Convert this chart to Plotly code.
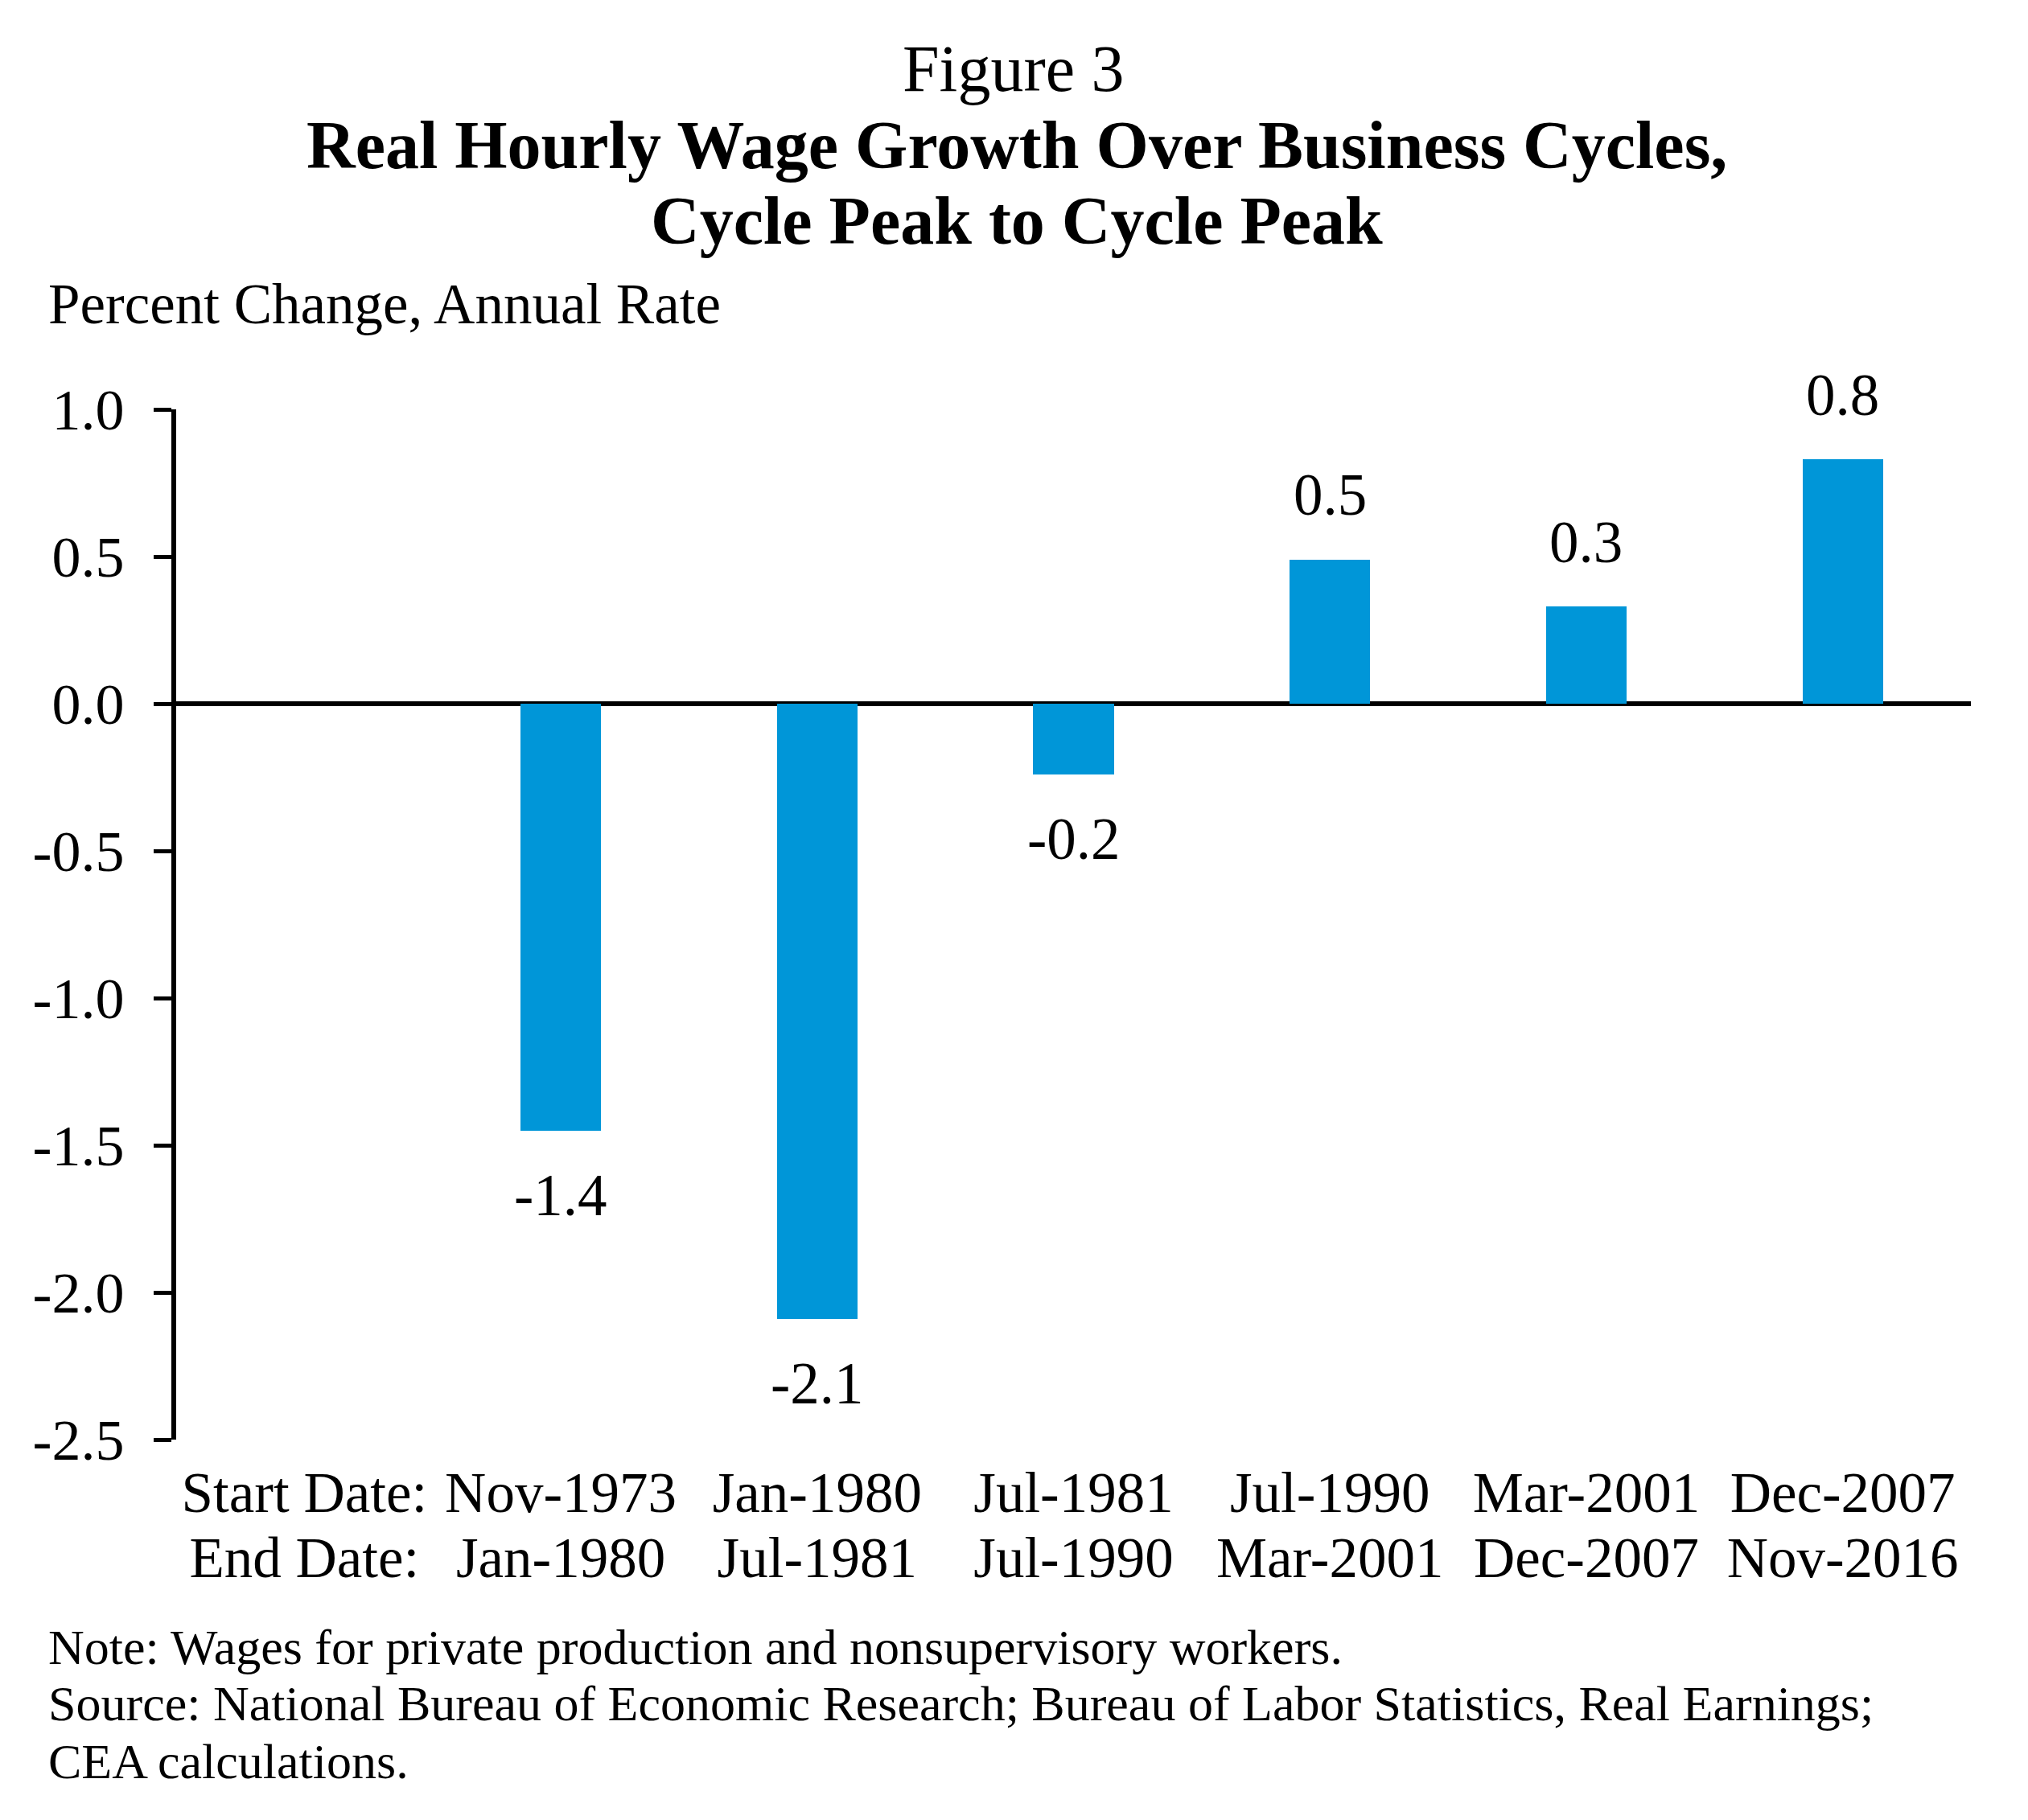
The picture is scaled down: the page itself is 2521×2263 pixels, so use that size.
import plotly.graph_objects as go

# ---- data ----
start_dates = ["Start Date:", "Nov-1973", "Jan-1980", "Jul-1981", "Jul-1990", "Mar-2001", "Dec-2007"]
end_dates = ["End Date:", "Jan-1980", "Jul-1981", "Jul-1990", "Mar-2001", "Dec-2007", "Nov-2016"]
values = [None, -1.45, -2.09, -0.24, 0.49, 0.33, 0.83]
value_labels = ["", "-1.4", "-2.1", "-0.2", "0.5", "0.3", "0.8"]
y_ticks = [1.0, 0.5, 0.0, -0.5, -1.0, -1.5, -2.0, -2.5]
y_tick_text = ["1.0", "0.5", "0.0", "-0.5", "-1.0", "-1.5", "-2.0", "-2.5"]

title_top = "Figure 3"
title_lines = ["Real Hourly Wage Growth Over Business Cycles,", "Cycle Peak to Cycle Peak"]
y_title = "Percent Change, Annual Rate"
footer_lines = [
    "Note: Wages for private production and nonsupervisory workers.",
    "Source: National Bureau of Economic Research; Bureau of Labor Statistics, Real Earnings;",
    "CEA calculations.",
]

# ---- layout geometry (page has an 8px body margin) ----
OFF = 8
W, H = 2521 - 2 * OFF, 2263 - 2 * OFF
ML = 219 - OFF
MT = 509 - OFF
MR = W - (2450 - OFF)
MB = H - (1790 - OFF)
FONT = "Liberation Serif, Times New Roman, serif"
BAR_COLOR = "#0096D8"

xpos = list(range(len(start_dates)))

fig = go.Figure()
fig.add_trace(go.Bar(
    x=xpos, y=values, width=0.314,
    marker=dict(color=BAR_COLOR, line=dict(width=0)),
    hoverinfo="skip", showlegend=False,
))
# invisible trace to activate second x axis (end-date row)
fig.add_trace(go.Scatter(
    x=xpos, y=[None] * len(xpos), xaxis="x2", mode="markers",
    hoverinfo="skip", showlegend=False,
))

annotations = []
# value labels
for xi, v, lab in zip(xpos, values, value_labels):
    if v is None:
        continue
    annotations.append(dict(
        x=xi, y=v, xref="x", yref="y", text=lab, showarrow=False,
        xanchor="center", yanchor="middle", yshift=80 if v > 0 else -81,
        font=dict(family=FONT, size=73, color="black"),
    ))

def top_text(text, center_px, size, bold=False, x_px=1262, anchor="center"):
    t = f"<b>{text}</b>" if bold else text
    return dict(
        xref="paper", yref="paper", x=0, y=1,
        xshift=(x_px - OFF) - ML, yshift=MT - (center_px - OFF),
        text=t, showarrow=False, xanchor=anchor, yanchor="middle",
        font=dict(family=FONT, size=size, color="black"),
    )

annotations.append(top_text(title_top, 112.7 - 0.3375 * 82, 82, x_px=1260))
annotations.append(top_text(title_lines[0], 209 - 0.3375 * 84, 84, bold=True, x_px=1264))
annotations.append(top_text(title_lines[1], 303.3 - 0.3375 * 84, 84, bold=True, x_px=1264))
annotations.append(top_text(y_title, 401.7 - 0.3375 * 71, 71, x_px=58, anchor="left"))

bottom_px = H - MB
for line, base in zip(footer_lines, [2069.0, 2139.3, 2211.0]):
    c = base - 0.3375 * 62 - OFF
    annotations.append(dict(
        xref="paper", yref="paper", x=0, y=0, xshift=(58 - OFF) - ML, yshift=bottom_px - c,
        text=line, showarrow=False, xanchor="left", yanchor="middle",
        font=dict(family=FONT, size=62, color="black"),
    ))

axis_font = dict(family=FONT, size=71, color="black")
ytick_font = dict(family=FONT, size=72, color="black")

fig.update_layout(
    width=W, height=H,
    margin=dict(l=ML, r=MR, t=MT, b=MB, pad=0),
    paper_bgcolor="white", plot_bgcolor="white",
    font=dict(family=FONT, color="black"),
    bargap=0,
    xaxis=dict(
        range=[-0.5, 6.5], tickmode="array", tickvals=xpos, ticktext=start_dates,
        showline=False, ticks="", showgrid=False, zeroline=False,
        tickfont=axis_font, ticklabelstandoff=18, fixedrange=True,
    ),
    xaxis2=dict(
        range=[-0.5, 6.5], tickmode="array", tickvals=xpos, ticktext=end_dates,
        overlaying="x", anchor="y", side="bottom",
        showline=False, ticks="", showgrid=False, zeroline=False,
        tickfont=axis_font, ticklabelstandoff=99, fixedrange=True,
    ),
    yaxis=dict(
        range=[-2.5, 1.0], tickmode="array", tickvals=y_ticks, ticktext=y_tick_text,
        showline=True, linecolor="black", linewidth=6,
        ticks="outside", ticklen=22, tickwidth=5, tickcolor="black",
        showgrid=False, zeroline=True, zerolinecolor="black", zerolinewidth=6,
        tickfont=ytick_font, ticklabelstandoff=22, fixedrange=True,
    ),
    annotations=annotations,
)

fig.write_html("out.html")
